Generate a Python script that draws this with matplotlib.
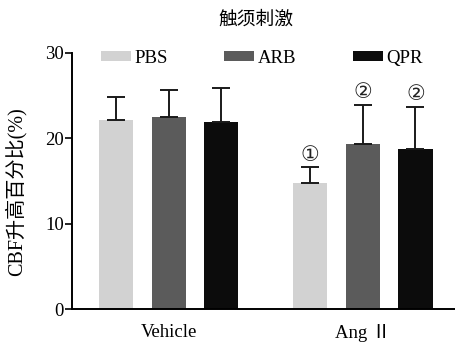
import numpy as np
import matplotlib; matplotlib.use("Agg")
import matplotlib.pyplot as plt

plt.rcParams['font.family'] = ['Liberation Serif', 'Noto Sans CJK SC', 'DejaVu Sans']

groups = ["Vehicle", "Ang Ⅱ"]
series = ["PBS", "ARB", "QPR"]
colors = ["#d2d2d2", "#5b5b5b", "#0c0c0c"]
means = {"PBS": [22.1, 14.8], "ARB": [22.5, 19.3], "QPR": [21.9, 18.8]}
errs = {"PBS": [2.8, 1.8], "ARB": [3.2, 4.6], "QPR": [4.0, 4.9]}
marks = {"PBS": ["", "①"], "ARB": ["", "②"], "QPR": ["", "②"]}
title = "触须刺激"
ylabel = "CBF升高百分比(%)"

group_centers = np.array([1.0, 4.686])
w = 0.65

fig = plt.figure(figsize=(4.56, 3.44), dpi=100)
ax = fig.add_axes([0.1586, 0.1017, 0.8414, 0.7443])

for i, s in enumerate(series):
    x = group_centers + (i - 1)
    ax.bar(x, means[s], w, color=colors[i], label=s, zorder=2)
    ax.errorbar(x, means[s], yerr=[np.zeros(2), errs[s]], fmt="none",
                ecolor="#1a1a1a", elinewidth=1.4, capsize=6.8, capthick=1.4, zorder=3)
    for xi, m, e, t in zip(x, means[s], errs[s], marks[s]):
        if t:
            ax.text(xi, m + e + 0.3, t, ha="center", va="bottom", fontsize=15,
                    family=['DejaVu Sans'], color="#222222")

ax.set_xlim(-0.832, 6.457)
ax.set_ylim(0, 30)
ax.set_yticks([0, 10, 20, 30])
ax.set_xticks(group_centers)
ax.set_xticklabels(groups, fontsize=13.5)
ax.tick_params(axis="x", length=0, pad=11)
ax.tick_params(axis="y", length=5, width=1.2, labelsize=13.5, pad=1)
for sp in ["top", "right"]:
    ax.spines[sp].set_visible(False)
for sp in ["left", "bottom"]:
    ax.spines[sp].set_linewidth(1.4)
ax.set_ylabel(ylabel, fontsize=14.5)
ax.yaxis.set_label_coords(-0.118, 0.46)
fig.text(0.562, 0.942, title, ha="center", va="center", fontsize=13.5)

ax.legend(ncol=3, loc="center left", bbox_to_anchor=(0.075, 0.98), frameon=False,
          fontsize=13.5, handlelength=1.6, handleheight=0.45, handletextpad=0.2,
          columnspacing=3.0, borderaxespad=0, borderpad=0)

fig.savefig("out.png", dpi=100)
